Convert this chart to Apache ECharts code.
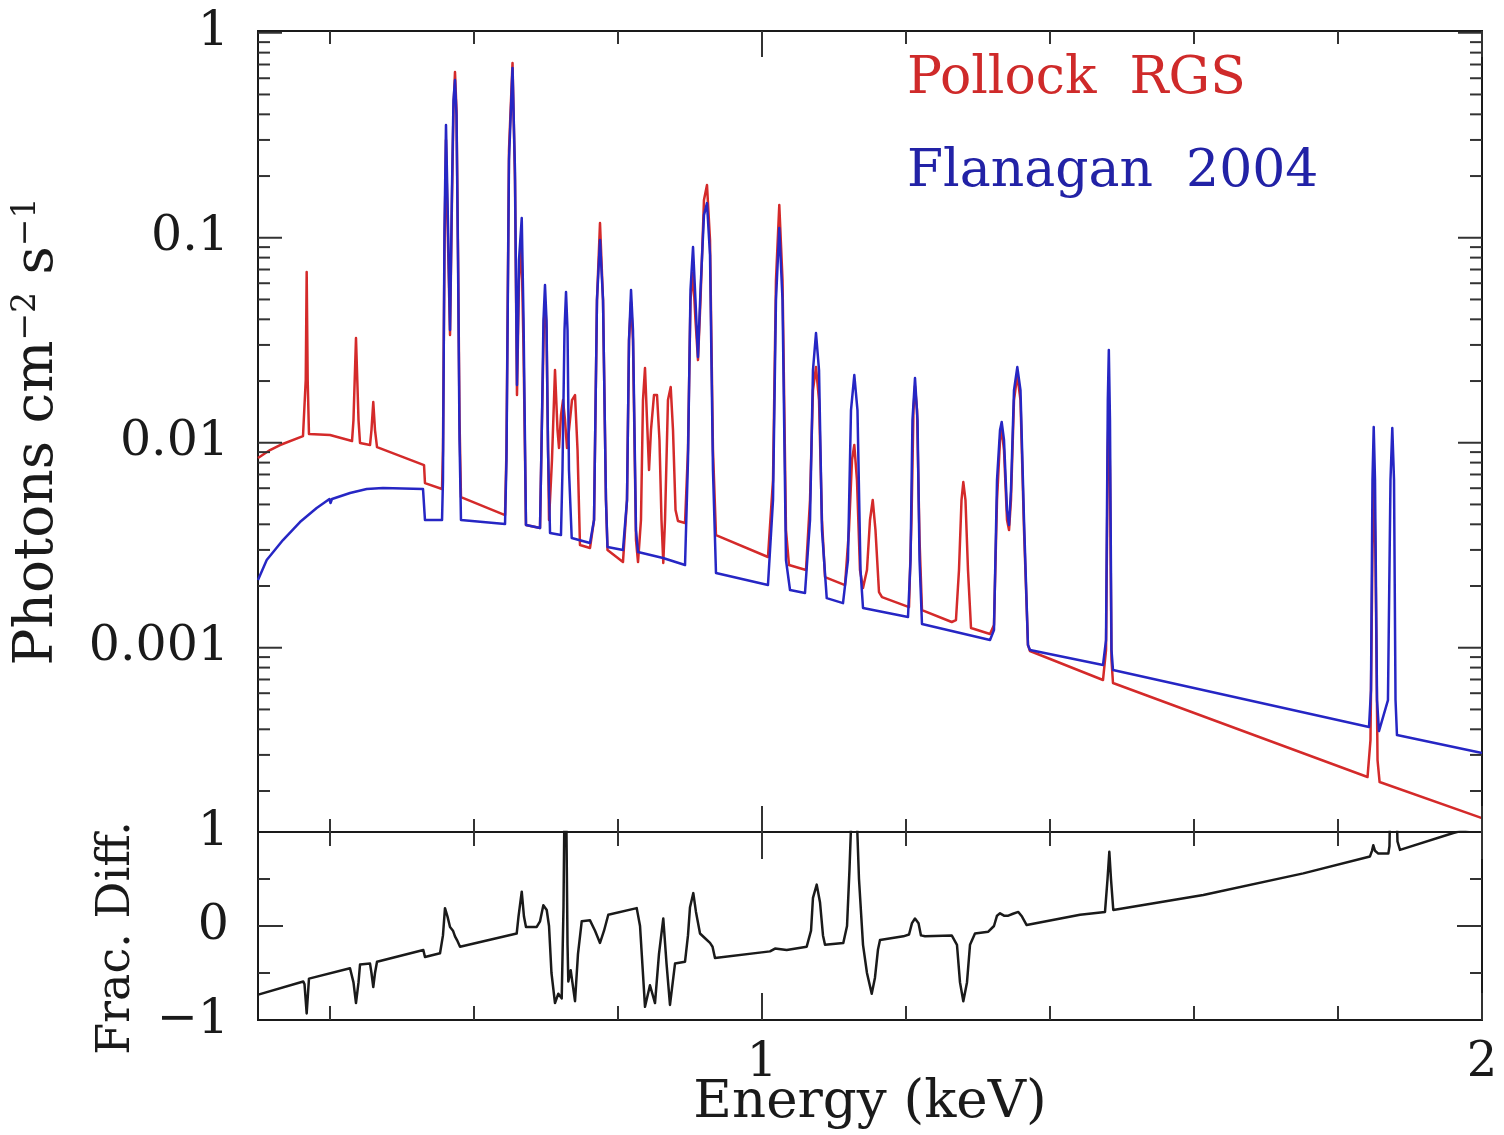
<!DOCTYPE html>
<html>
<head>
<meta charset="utf-8">
<script src="https://cdn.jsdelivr.net/npm/echarts@6/dist/echarts.min.js"></script>
<style>
html,body{margin:0;padding:0;background:#fff;}
#chart{width:1504px;height:1135px;}
</style>
</head>
<body>
<div id="chart"></div>
<script>
// ---------------- DATA ----------------
// Pollock RGS model spectrum: [energy keV, photons cm^-2 s^-1]
const pollockRGS = [
[0.3,0.008422],[0.3167,0.009213],[0.3306,0.009745],[0.3625,0.01078],[0.3646,0.01090],[0.3663,0.02022],[0.3676,0.06804],[0.3690,0.02022],[0.3708,0.01102],
[0.4,0.01090],[0.4007,0.01066],[0.4306,0.01019],[0.4326,0.01290],[0.4361,0.03241],[0.4396,0.01290],[0.4417,0.009966],
[0.4556,0.009745],[0.4576,0.01153],[0.4601,0.01579],[0.4625,0.01153],[0.4653,0.009528],[0.5306,0.007782],[0.5319,0.006358],[0.5556,0.005944],
[0.5569,0.009213],[0.5590,0.08710],[0.5611,0.2996],[0.5632,0.1220],[0.5667,0.03352],[0.5694,0.1527],[0.5715,0.4197],[0.5736,0.6430],[0.5757,0.4197],[0.5778,0.08710],[0.5799,0.01290],[0.5819,0.005433],
[0.6431,0.004439],[0.6451,0.009213],[0.6486,0.2678],[0.6535,0.7114],[0.6569,0.1912],[0.6597,0.01709],[0.6625,0.06219],[0.6660,0.09110],[0.6688,0.02833],[0.6722,0.003966],
[0.6917,0.003835],[0.6944,0.01290],[0.6972,0.03968],[0.6989,0.04802],[0.7007,0.03546],[0.7042,0.004197],
[0.7083,0.008234],[0.7125,0.02262],[0.7160,0.01153],[0.7181,0.009421],[0.7208,0.01364],[0.7236,0.01615],[0.7264,0.01290],[0.7292,0.009421],[0.7319,0.01153],[0.7361,0.01615],[0.7403,0.01709],[0.7438,0.009213],[0.7472,0.003170],
[0.7611,0.003065],[0.7667,0.004197],[0.7708,0.04967],[0.7750,0.1179],[0.7792,0.04967],[0.7833,0.005254],[0.7854,0.002997],
[0.8069,0.002618],[0.8125,0.005254],[0.8153,0.03170],[0.8181,0.04856],[0.8208,0.03170],[0.8250,0.003352],[0.8278,0.002618],
[0.8319,0.004197],[0.8347,0.01615],[0.8375,0.02314],[0.8403,0.01290],[0.8431,0.007359],[0.8458,0.01153],[0.8500,0.01709],[0.8542,0.01709],[0.8576,0.01031],[0.8604,0.004197],[0.8629,0.002589],[0.8653,0.004197],[0.8694,0.01615],[0.8732,0.01869],[0.8764,0.01153],[0.8799,0.004695],[0.8833,0.004150],
[0.8931,0.004057],[0.8972,0.009213],[0.9007,0.04967],[0.9042,0.06728],[0.9076,0.03968],[0.9111,0.02531],[0.9146,0.04967],[0.9194,0.1527],[0.9236,0.1807],[0.9278,0.09745],[0.9319,0.009213],[0.9361,0.003546],
[1.0083,0.002770],[1.0153,0.006577],[1.0194,0.06219],[1.0240,0.1443],[1.0285,0.06219],[1.0333,0.003750],[1.0375,0.002531],
[1.0611,0.002393],[1.0667,0.005254],[1.0708,0.01807],[1.0750,0.02340],[1.0792,0.01615],[1.0833,0.004197],[1.0875,0.002212],
[1.1153,0.002022],[1.1208,0.003750],[1.1250,0.008234],[1.1282,0.009745],[1.1319,0.006577],[1.1361,0.002393],[1.1403,0.001955],[1.1458,0.002393],[1.15,0.004197],[1.1538,0.005254],[1.1576,0.003750],[1.1625,0.001869],[1.1667,0.001765],
[1.2042,0.001579],[1.2076,0.004197],[1.2104,0.01443],[1.2125,0.01890],[1.2153,0.01443],[1.2188,0.003352],[1.2222,0.001527],
[1.2635,0.001335],[1.2694,0.001365],[1.2736,0.002393],[1.2771,0.005254],[1.2796,0.006431],[1.2826,0.005254],[1.2861,0.002393],[1.2903,0.001248],
[1.3167,0.001166],[1.3222,0.001290],[1.3264,0.005254],[1.3306,0.01031],[1.3329,0.01153],[1.3361,0.009213],[1.3403,0.004197],[1.3431,0.003750],[1.3458,0.005254],[1.35,0.01615],[1.3546,0.02139],[1.3590,0.01615],[1.3639,0.003750],[1.3694,0.001031],[1.3722,0.0009636],
[1.4736,0.0006957],[1.4778,0.0009745],[1.4803,0.009213],[1.4817,0.01615],[1.4833,0.007359],[1.4854,0.0008710],[1.4875,0.0006728],
[1.8410,0.0002340],[1.8451,0.0003546],[1.8479,0.002997],[1.85,0.006957],[1.8521,0.002678],[1.8549,0.0002833],[1.8578,0.0002212],
[2.0,0.0001476]
];

// Flanagan 2004 model spectrum: [energy keV, photons cm^-2 s^-1]
const flanagan2004 = [
[0.3,0.002139],[0.3121,0.002678],[0.3347,0.003352],[0.3583,0.004103],[0.3815,0.004802],[0.3993,0.005313],[0.4007,0.005080],[0.4028,0.005313],
[0.4278,0.005683],[0.4510,0.005944],[0.4736,0.006012],[0.5292,0.005944],[0.5319,0.004197],[0.5556,0.004197],
[0.5569,0.006577],[0.5590,0.1090],[0.5611,0.3546],[0.5632,0.1527],[0.5667,0.03546],[0.5694,0.1709],[0.5715,0.4695],[0.5736,0.5877],[0.5757,0.3968],[0.5778,0.07782],[0.5799,0.01031],[0.5819,0.004197],
[0.6431,0.004011],[0.6451,0.008234],[0.6486,0.2393],[0.6535,0.6728],[0.6569,0.2139],[0.6597,0.01912],[0.6625,0.07782],[0.6663,0.1248],[0.6688,0.03968],[0.6722,0.003966],
[0.6917,0.003835],[0.6944,0.01290],[0.6965,0.03968],[0.6986,0.05878],[0.7007,0.03968],[0.7028,0.009213],[0.7056,0.003626],
[0.7208,0.003546],[0.7229,0.007359],[0.7257,0.03546],[0.7278,0.05433],[0.7299,0.03546],[0.7319,0.007359],[0.7357,0.003428],
[0.7611,0.003241],[0.7667,0.004197],[0.7708,0.04967],[0.7750,0.09745],[0.7792,0.04967],[0.7833,0.005254],[0.7854,0.003100],
[0.8069,0.002997],[0.8125,0.005254],[0.8153,0.03170],[0.8181,0.05556],[0.8208,0.03546],[0.8250,0.003750],[0.8278,0.002930],
[0.8625,0.002739],[0.8931,0.002531],[0.8972,0.008234],[0.9007,0.05556],[0.9042,0.09010],[0.9076,0.04967],[0.9111,0.02618],[0.9146,0.05556],[0.9194,0.1290],[0.9236,0.1476],[0.9278,0.08234],[0.9319,0.007359],[0.9361,0.002314],
[1.0083,0.002022],[1.0153,0.005254],[1.0194,0.04967],[1.0240,0.1115],[1.0285,0.04967],[1.0333,0.002678],[1.0389,0.001912],
[1.0597,0.001848],[1.0667,0.004197],[1.0708,0.02262],[1.0750,0.03428],[1.0792,0.02262],[1.0833,0.003750],[1.0899,0.001746],
[1.1125,0.001650],[1.1194,0.002678],[1.1236,0.01443],[1.1282,0.02139],[1.1326,0.01443],[1.1368,0.002393],[1.1403,0.001562],
[1.2028,0.001412],[1.2063,0.002678],[1.2090,0.01290],[1.2125,0.02068],[1.2160,0.01290],[1.2188,0.002678],[1.2222,0.001305],
[1.3167,0.001090],[1.3222,0.001220],[1.3264,0.006577],[1.3306,0.01153],[1.3329,0.01262],[1.3361,0.01031],[1.3403,0.004695],[1.3431,0.003966],[1.3458,0.005878],[1.35,0.01807],[1.3546,0.02340],[1.3590,0.01807],[1.3639,0.004197],[1.3694,0.001031],[1.3722,0.0009745],
[1.4736,0.0008234],[1.4778,0.001090],[1.4803,0.01615],[1.4817,0.02833],[1.4833,0.01290],[1.4854,0.0009745],[1.4875,0.0007782],
[1.8431,0.0004103],[1.8458,0.0006219],[1.8479,0.006577],[1.8496,0.01193],[1.8514,0.006577],[1.8542,0.0005556],[1.8569,0.0003923],
[1.8694,0.0005556],[1.8729,0.006577],[1.8754,0.01179],[1.8778,0.006577],[1.8799,0.0005556],[1.8819,0.0003748],
[2.0,0.0003065]
];

// Fractional difference (bottom panel): [energy keV, frac. diff.]
const fracDiff = [
[0.3004,-0.73],[0.3629,-0.59],[0.3646,-0.62],[0.3676,-0.93],[0.3708,-0.56],[0.4278,-0.45],[0.4326,-0.6],[0.4361,-0.82],[0.4396,-0.6],[0.4417,-0.41],
[0.4556,-0.40],[0.4576,-0.5],[0.4601,-0.65],[0.4625,-0.5],[0.4653,-0.38],[0.5296,-0.255],[0.5319,-0.33],[0.5528,-0.29],
[0.5569,-0.1],[0.5597,0.19],[0.5632,0.1],[0.5667,-0.01],[0.5708,-0.05],[0.5736,-0.11],[0.5764,-0.15],[0.5806,-0.22],
[0.6593,-0.08],[0.6618,0.1],[0.6663,0.365],[0.6694,0.1],[0.6722,-0.01],[0.6871,-0.01],[0.6917,0.05],[0.6963,0.22],[0.7010,0.17],[0.7042,0.0],
[0.7076,-0.5],[0.7125,-0.82],[0.7171,-0.72],[0.7218,-0.77],[0.7243,0.2],[0.7257,1.3],[0.7278,1.5],[0.7299,-0.2],[0.7310,-0.59],[0.7343,-0.47],[0.7403,-0.8],[0.7444,-0.3],[0.7496,0.05],
[0.7611,0.06],[0.7681,-0.05],[0.7750,-0.18],[0.7806,-0.05],[0.7865,0.12],[0.8260,0.19],[0.8306,0.0],[0.8375,-0.86],[0.8444,-0.63],[0.8514,-0.82],[0.8569,-0.3],[0.8629,0.08],[0.8674,-0.4],[0.8722,-0.84],[0.8792,-0.4],
[0.8931,-0.38],[0.8972,-0.1],[0.9,0.2],[0.9046,0.35],[0.9083,0.15],[0.9139,-0.08],[0.9194,-0.12],[0.9278,-0.18],[0.9313,-0.22],[0.9347,-0.34],
[1.0111,-0.27],[1.0181,-0.24],[1.0343,-0.255],[1.0621,-0.22],[1.0681,-0.05],[1.0708,0.3],[1.0760,0.44],[1.0806,0.25],[1.0847,-0.1],[1.0875,-0.2],
[1.1129,-0.18],[1.1181,0.0],[1.1215,0.6],[1.1243,1.2],[1.1315,1.2],[1.1347,0.5],[1.1403,-0.2],[1.1458,-0.5],[1.1524,-0.72],[1.1569,-0.55],[1.1611,-0.25],[1.1639,-0.15],
[1.1963,-0.11],[1.2042,-0.09],[1.2083,0.03],[1.2125,0.08],[1.2174,0.03],[1.2208,-0.1],[1.2264,-0.11],[1.2635,-0.1],[1.2708,-0.2],[1.2750,-0.6],[1.2796,-0.8],[1.2847,-0.6],[1.2889,-0.2],[1.2958,-0.08],
[1.3143,-0.06],[1.3222,0.0],[1.3264,0.11],[1.3306,0.135],[1.3361,0.11],[1.3421,0.11],[1.3486,0.13],[1.3560,0.15],[1.3611,0.1],[1.3676,0.01],
[1.4417,0.12],[1.4764,0.15],[1.4799,0.5],[1.4824,0.79],[1.4847,0.5],[1.4879,0.17],[1.6129,0.33],[1.7518,0.56],
[1.8444,0.74],[1.8472,0.8],[1.8490,0.86],[1.8514,0.8],[1.8560,0.77],[1.8699,0.77],[1.8715,0.85],[1.8729,1.5],[1.8806,1.5],[1.8826,0.9],[1.8861,0.81],[1.9601,0.99],[2.0,1.07]
];

// Axis ticks / labels
const energyRange = [0.3, 2.0];
const fluxRange = [1.262e-4, 1.02];
const fracRange = [-1, 1];
const energyLabelValues = [1, 2];
const energyLabels = ['1', '2'];
const energyMinorTicks = [0.4, 0.6, 0.8, 1.2, 1.4, 1.6, 1.8];
const energyMajorTicks = [1.0, 2.0];
const fluxLabelValues = [0.001, 0.01, 0.1, 1];
const fluxLabels = ['0.001', '0.01', '0.1', '1'];
const fluxMinorTicks = [2e-4,3e-4,4e-4,5e-4,6e-4,7e-4,8e-4,9e-4,
  2e-3,3e-3,4e-3,5e-3,6e-3,7e-3,8e-3,9e-3,
  0.02,0.03,0.04,0.05,0.06,0.07,0.08,0.09,
  0.2,0.3,0.4,0.5,0.6,0.7,0.8,0.9];
const fracLabelValues = [-1, 0, 1];
const fracLabels = ['\u22121', '0', '1'];
const fracMajorTicks = [0];
const fracMinorTicks = [-0.5, 0.5];
const legendNames = ['Pollock  RGS', 'Flanagan  2004'];

// ---------------- CHART ----------------
const FONT = '"DejaVu Serif", "Liberation Serif", serif';
const INK = '#1a1a1a';
const RED = '#d42a2a';
const BLUE = '#2626c4';

function pick(values, labels) {
  return function (v) {
    for (let i = 0; i < values.length; i++) {
      if (Math.abs(v - values[i]) <= Math.abs(values[i]) * 1e-6 + 1e-9) return labels[i];
    }
    return '';
  };
}

function yTicks(values, len) {
  const out = [];
  values.forEach(v => { out.push([energyRange[0], v, len, 0]); out.push([energyRange[1], v, -len, 0]); });
  return out;
}
function xTicks(values, yLow, yHigh, len) {
  const out = [];
  values.forEach(v => { out.push([v, yHigh, 0, len]); out.push([v, yLow, 0, -len]); });
  return out;
}
function tickSeries(gridIdx, data) {
  return {
    type: 'custom', xAxisIndex: gridIdx, yAxisIndex: gridIdx, silent: true, z: 10,
    encode: { x: 0, y: 1 },
    data: data,
    renderItem: function (params, api) {
      const p = api.coord([api.value(0), api.value(1)]);
      return {
        type: 'line',
        shape: { x1: p[0], y1: p[1], x2: p[0] + api.value(2), y2: p[1] + api.value(3) },
        style: { stroke: '#333', lineWidth: 2 }
      };
    }
  };
}

const chart = echarts.init(document.getElementById('chart'), null, { renderer: 'canvas' });

const option = {
  backgroundColor: '#ffffff',
  animation: false,
  grid: [
    { left: 258, right: 22, top: 31, height: 801, show: true, borderColor: INK, borderWidth: 2,
      backgroundColor: 'transparent', containLabel: false, outerBoundsMode: 'none' },
    { left: 258, right: 22, top: 832, height: 188, show: true, borderColor: INK, borderWidth: 2,
      backgroundColor: 'transparent', containLabel: false, outerBoundsMode: 'none' }
  ],
  xAxis: [
    { gridIndex: 0, type: 'value', min: energyRange[0], max: energyRange[1],
      axisLine: { show: false }, axisTick: { show: false }, axisLabel: { show: false }, splitLine: { show: false } },
    { gridIndex: 1, type: 'value', min: energyRange[0], max: energyRange[1], interval: 0.1,
      axisLine: { show: false }, axisTick: { show: false }, splitLine: { show: false },
      axisLabel: { formatter: pick(energyLabelValues, energyLabels), fontFamily: FONT, fontSize: 48, color: INK, margin: 20 },
      name: 'Energy (keV)', nameLocation: 'middle', nameGap: 57, nameMoveOverlap: false,
      nameTextStyle: { fontFamily: FONT, fontSize: 53, color: INK } }
  ],
  yAxis: [
    { gridIndex: 0, type: 'log', logBase: 10, min: fluxRange[0], max: fluxRange[1],
      axisLine: { show: false }, axisTick: { show: false }, splitLine: { show: false }, minorTick: { show: false },
      axisLabel: { formatter: pick(fluxLabelValues, fluxLabels), fontFamily: FONT, fontSize: 49, color: INK, margin: 29 },
      name: 'Photons cm{sup|\u22122} s{sup|\u22121}', nameLocation: 'middle', nameGap: 193, nameRotate: 90, nameMoveOverlap: false,
      nameTextStyle: { fontFamily: FONT, fontSize: 55, color: INK,
        rich: { sup: { fontFamily: FONT, fontSize: 33, color: INK, verticalAlign: 'top' } } } },
    { gridIndex: 1, type: 'value', min: fracRange[0], max: fracRange[1], interval: 0.5,
      axisLine: { show: false }, axisTick: { show: false }, splitLine: { show: false },
      axisLabel: { formatter: pick(fracLabelValues, fracLabels), fontFamily: FONT, fontSize: 49, color: INK, margin: 29 },
      name: 'Frac. Diff.', nameLocation: 'middle', nameGap: 118, nameRotate: 90, nameMoveOverlap: false,
      nameTextStyle: { fontFamily: FONT, fontSize: 46, color: INK, padding: [0, 24, 0, 0] } }
  ],
  series: [
    { name: 'Pollock RGS', type: 'line', xAxisIndex: 0, yAxisIndex: 0, data: pollockRGS,
      showSymbol: false, symbol: 'none', z: 2,
      lineStyle: { color: RED, width: 2.5, join: 'round' }, silent: true },
    { name: 'Flanagan 2004', type: 'line', xAxisIndex: 0, yAxisIndex: 0, data: flanagan2004,
      showSymbol: false, symbol: 'none', z: 3,
      lineStyle: { color: BLUE, width: 2.5, join: 'round' }, silent: true },
    { name: 'Frac. Diff.', type: 'line', xAxisIndex: 1, yAxisIndex: 1, data: fracDiff,
      showSymbol: false, symbol: 'none', z: 3, clip: true,
      lineStyle: { color: INK, width: 2.5, join: 'round' }, silent: true },
    tickSeries(0, [].concat(
      yTicks(fluxLabelValues, 24), yTicks(fluxMinorTicks, 12),
      xTicks(energyMinorTicks, fluxRange[0], fluxRange[1], 13), xTicks(energyMajorTicks, fluxRange[0], fluxRange[1], 26))),
    tickSeries(1, [].concat(
      yTicks(fracMajorTicks, 25), yTicks(fracMinorTicks, 12),
      xTicks(energyMinorTicks, fracRange[0], fracRange[1], 14), xTicks(energyMajorTicks, fracRange[0], fracRange[1], 27)))
  ],
  graphic: [
    { type: 'text', left: 907, top: 53, z: 20,
      style: { text: legendNames[0], fill: '#cf2a2a', font: '52px ' + FONT } },
    { type: 'text', left: 907, top: 146, z: 20,
      style: { text: legendNames[1], fill: '#2222a6', font: '52px ' + FONT } }
  ]
};
chart.setOption(option);
</script>
</body>
</html>
